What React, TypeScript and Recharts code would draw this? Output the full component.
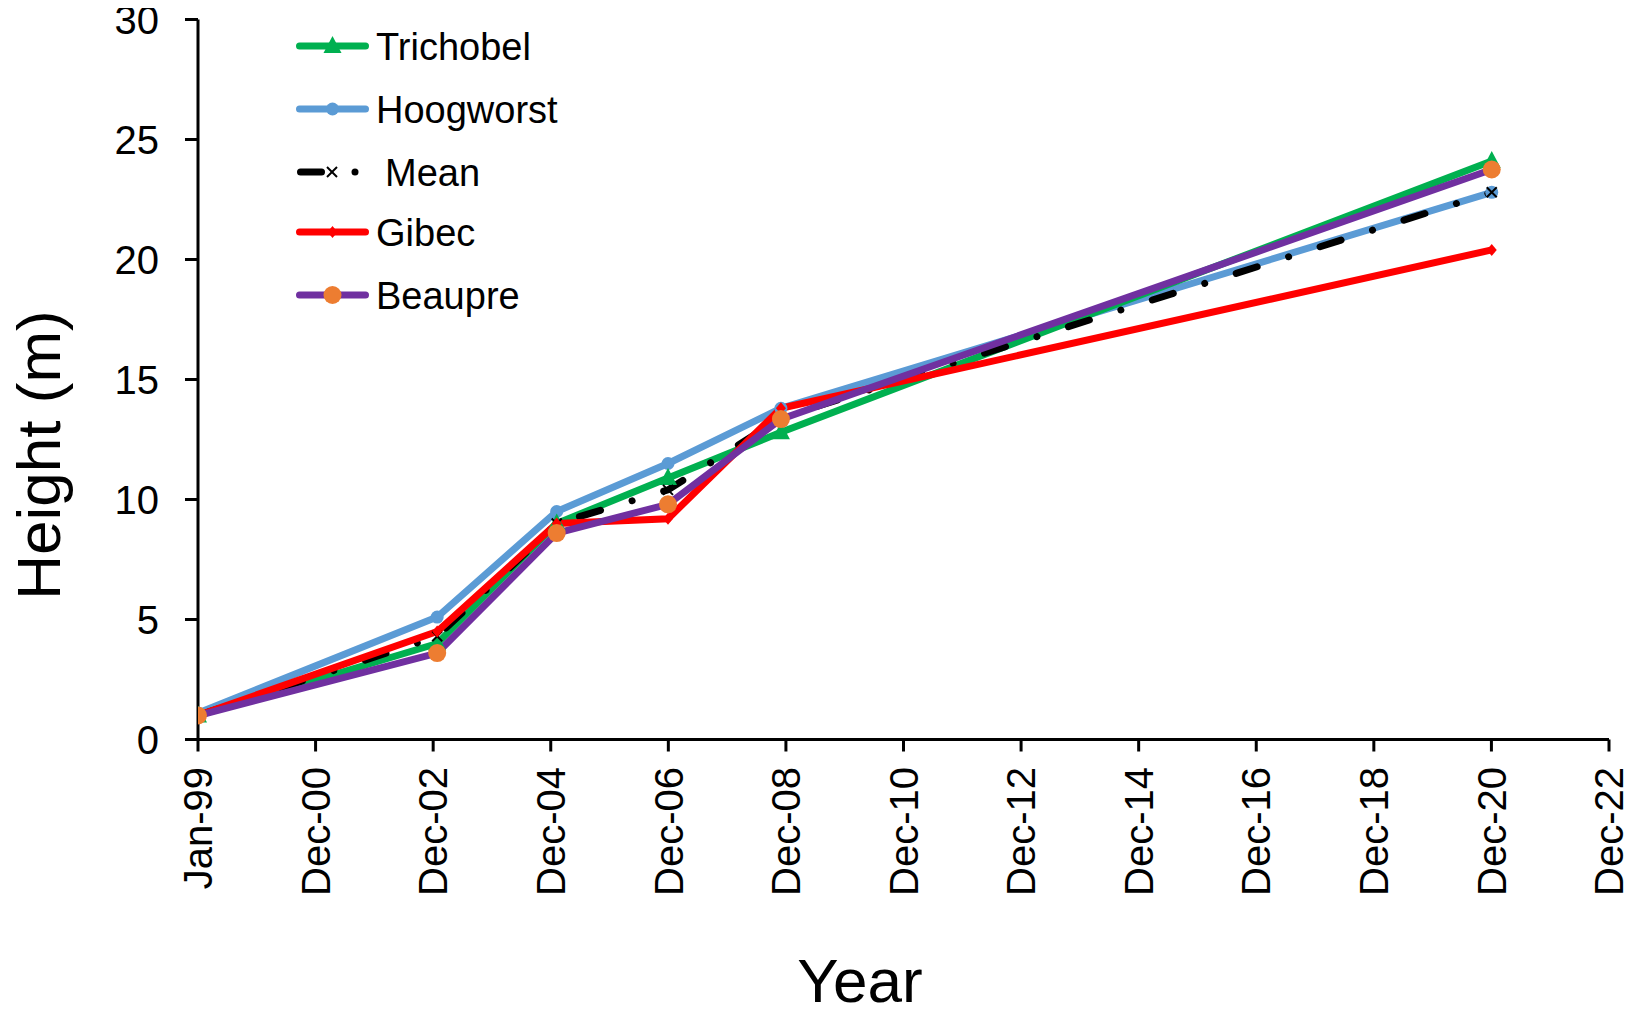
import React from 'react';
import { LineChart, Line, XAxis, YAxis, Legend, Label } from 'recharts';

// ---- data ----
const sampleDates = ['1999-01-01', '2003-01-25', '2005-02-05', '2006-12-28', '2008-11-28', '2020-12-28'];
const trichobel = [1.0, 4.0, 9.0, 10.9, 12.8, 24.1];
const hoogworst = [1.1, 5.1, 9.5, 11.5, 13.8, 22.8];
const meanHeight = [1.0, 4.3, 9.0, 10.4, 13.4, 22.8];
const gibec = [1.0, 4.5, 9.0, 9.2, 13.8, 20.4];
const beaupre = [1.0, 3.6, 8.6, 9.8, 13.35, 23.75];

const xTickLabels = ['Jan-99', 'Dec-00', 'Dec-02', 'Dec-04', 'Dec-06', 'Dec-08', 'Dec-10', 'Dec-12', 'Dec-14', 'Dec-16', 'Dec-18', 'Dec-20', 'Dec-22'];
const xTickDays = [0, 730, 1460, 2190, 2920, 3650, 4380, 5110, 5840, 6570, 7300, 8030, 8760];
const yTicks = [0, 5, 10, 15, 20, 25, 30];

const seriesNames = ['Trichobel', 'Hoogworst', 'Mean', 'Gibec', 'Beaupre'];

const ORIGIN = Date.parse('1999-01-01');
const dayOf = (s: string) => Math.round((Date.parse(s) - ORIGIN) / 86400000);

const rows = sampleDates.map((d, i) => ({
  day: dayOf(d),
  trichobel: trichobel[i],
  hoogworst: hoogworst[i],
  mean: meanHeight[i],
  gibec: gibec[i],
  beaupre: beaupre[i],
}));

// ---- styles ----
const FONT = '"Liberation Sans", Arial, Helvetica, sans-serif';
const GREEN = '#00B050';
const BLUE = '#5B9BD5';
const RED = '#FF0000';
const PURPLE = '#7030A0';
const ORANGE = '#ED7D31';
const MEAN_DASH = '22 33 0.01 33';

const triDot = (p: any) => {
  const { cx, cy, index } = p;
  return (
    <polygon key={`t${index}`} points={`${cx},${cy - 10} ${cx + 9},${cy + 7} ${cx - 9},${cy + 7}`} fill={GREEN} />
  );
};
const blueDot = (p: any) => <circle key={`b${p.index}`} cx={p.cx} cy={p.cy} r={6.5} fill={BLUE} />;
const meanDot = (p: any) => {
  const { cx, cy, index } = p;
  return (
    <g key={`m${index}`}>
      <line x1={cx - 5} y1={cy - 5} x2={cx + 5} y2={cy + 5} stroke="#000" strokeWidth={2} />
      <line x1={cx - 5} y1={cy + 5} x2={cx + 5} y2={cy - 5} stroke="#000" strokeWidth={2} />
    </g>
  );
};
const redDot = (p: any) => {
  const { cx, cy, index } = p;
  return <polygon key={`r${index}`} points={`${cx},${cy - 6} ${cx + 5},${cy} ${cx},${cy + 6} ${cx - 5},${cy}`} fill={RED} />;
};
const orangeDot = (p: any) => <circle key={`o${p.index}`} cx={p.cx} cy={p.cy} r={9} fill={ORANGE} />;

const XTick = (props: any) => {
  const { x, y, payload } = props;
  const label = xTickLabels[xTickDays.indexOf(payload.value)];
  return (
    <text
      x={x}
      y={y}
      transform={`rotate(-90, ${x}, ${y})`}
      textAnchor="end"
      dy="0.355em"
      fontSize={40}
      fill="#000"
      fontFamily={FONT}
    >
      {label}
    </text>
  );
};

const YTitle = () => (
  <text x={52} y={447} transform="rotate(-90, 52, 447)" textAnchor="middle" fontSize={62} fill="#000" fontFamily={FONT}>
    Height (m)
  </text>
);

const XTitle = () => (
  <text x={852} y={994} textAnchor="middle" fontSize={62} fill="#000" fontFamily={FONT}>
    Year
  </text>
);

const LegendContent = () => {
  const rowsY = [38, 101, 164, 224, 287];
  const lx1 = 291.5;
  const lx2 = 357.5;
  const tx = 368;
  const mk = (lx1 + lx2) / 2;
  return (
    <svg width={600} height={320} style={{ display: 'block' }}>
      {/* Trichobel */}
      <line x1={lx1} y1={rowsY[0]} x2={lx2} y2={rowsY[0]} stroke={GREEN} strokeWidth={7} strokeLinecap="round" />
      <polygon points={`${mk},${rowsY[0] - 10} ${mk + 9},${rowsY[0] + 7} ${mk - 9},${rowsY[0] + 7}`} fill={GREEN} />
      <text x={tx} y={rowsY[0] + 14} fontSize={38} fontFamily={FONT} fill="#000">{seriesNames[0]}</text>
      {/* Hoogworst */}
      <line x1={lx1} y1={rowsY[1]} x2={lx2} y2={rowsY[1]} stroke={BLUE} strokeWidth={7} strokeLinecap="round" />
      <circle cx={mk} cy={rowsY[1]} r={6.5} fill={BLUE} />
      <text x={tx} y={rowsY[1] + 14} fontSize={38} fontFamily={FONT} fill="#000">{seriesNames[1]}</text>
      {/* Mean */}
      <line x1={292.5} y1={rowsY[2]} x2={313.5} y2={rowsY[2]} stroke="#000" strokeWidth={7} strokeLinecap="round" />
      <line x1={319} y1={rowsY[2] - 5} x2={329} y2={rowsY[2] + 5} stroke="#000" strokeWidth={2} />
      <line x1={319} y1={rowsY[2] + 5} x2={329} y2={rowsY[2] - 5} stroke="#000" strokeWidth={2} />
      <circle cx={347} cy={rowsY[2]} r={3.5} fill="#000" />
      <text x={377} y={rowsY[2] + 14} fontSize={38} fontFamily={FONT} fill="#000">{seriesNames[2]}</text>
      {/* Gibec */}
      <line x1={lx1} y1={rowsY[3]} x2={lx2} y2={rowsY[3]} stroke={RED} strokeWidth={7} strokeLinecap="round" />
      <polygon points={`${mk},${rowsY[3] - 6} ${mk + 5},${rowsY[3]} ${mk},${rowsY[3] + 6} ${mk - 5},${rowsY[3]}`} fill={RED} />
      <text x={tx} y={rowsY[3] + 14} fontSize={38} fontFamily={FONT} fill="#000">{seriesNames[3]}</text>
      {/* Beaupre */}
      <line x1={lx1} y1={rowsY[4]} x2={lx2} y2={rowsY[4]} stroke={PURPLE} strokeWidth={7} strokeLinecap="round" />
      <circle cx={mk} cy={rowsY[4]} r={9} fill={ORANGE} />
      <text x={tx} y={rowsY[4] + 14} fontSize={38} fontFamily={FONT} fill="#000">{seriesNames[4]}</text>
    </svg>
  );
};

export default function App() {
  return (
    <div style={{ width: 1624, height: 1008, fontFamily: FONT }}>
      <LineChart
        width={1624}
        height={1008}
        data={rows}
        margin={{ top: 11.5, right: 23, bottom: 0, left: 0 }}
      >
        <XAxis
          dataKey="day"
          type="number"
          domain={[0, 8760]}
          ticks={xTickDays}
          interval={0}
          height={276.5}
          tickSize={12}
          tickMargin={15.5}
          tick={<XTick />}
          axisLine={{ stroke: '#000', strokeWidth: 3 }}
          tickLine={{ stroke: '#000', strokeWidth: 3 }}
          allowDataOverflow
        >
          <Label content={<XTitle />} />
        </XAxis>
        <YAxis
          type="number"
          domain={[0, 30]}
          ticks={yTicks}
          interval={0}
          width={190}
          tickSize={13}
          tickMargin={26}
          tick={{ fontSize: 40, fill: '#000', fontFamily: FONT }}
          axisLine={{ stroke: '#000', strokeWidth: 3 }}
          tickLine={{ stroke: '#000', strokeWidth: 3 }}
        >
          <Label content={<YTitle />} />
        </YAxis>
        <Legend
          layout="vertical"
          align="center"
          verticalAlign="middle"
          wrapperStyle={{ left: 0, top: 0, width: 600, height: 320 }}
          content={<LegendContent />}
        />
        <Line
          dataKey="hoogworst"
          name={seriesNames[1]}
          stroke={BLUE}
          strokeWidth={7}
          dot={blueDot}
          activeDot={false}
          isAnimationActive={false}
        />
        <Line
          dataKey="trichobel"
          name={seriesNames[0]}
          stroke={GREEN}
          strokeWidth={7}
          dot={triDot}
          activeDot={false}
          isAnimationActive={false}
        />
        <Line
          dataKey="mean"
          name={seriesNames[2]}
          stroke="#000"
          strokeWidth={7}
          strokeLinecap="round"
          strokeDasharray={MEAN_DASH}
          dot={meanDot}
          activeDot={false}
          isAnimationActive={false}
        />
        <Line
          dataKey="gibec"
          name={seriesNames[3]}
          stroke={RED}
          strokeWidth={7}
          dot={redDot}
          activeDot={false}
          isAnimationActive={false}
        />
        <Line
          dataKey="beaupre"
          name={seriesNames[4]}
          stroke={PURPLE}
          strokeWidth={7}
          dot={orangeDot}
          activeDot={false}
          isAnimationActive={false}
        />
      </LineChart>
    </div>
  );
}
